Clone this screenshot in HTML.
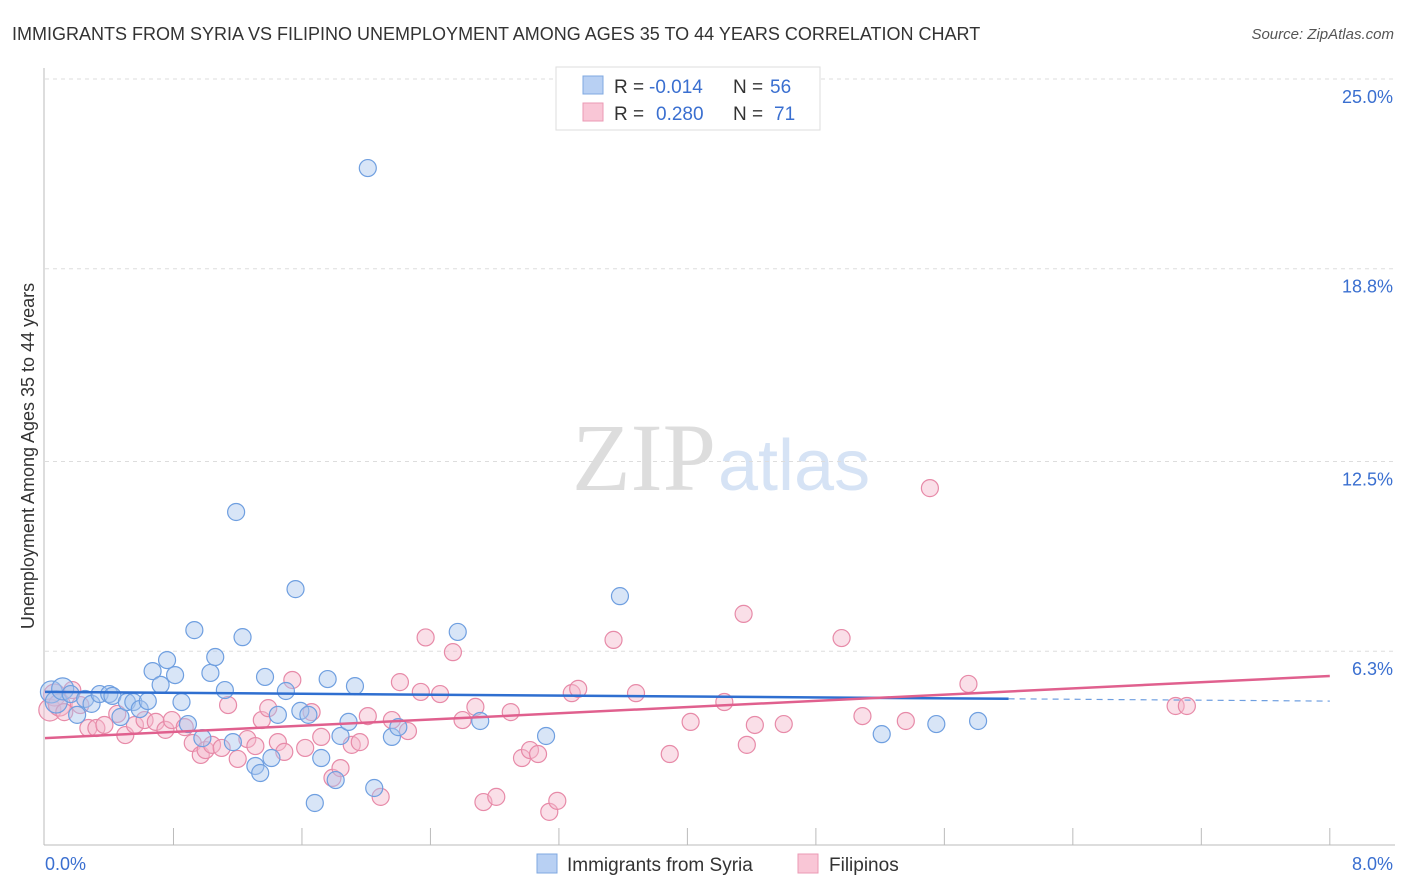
<!DOCTYPE html>
<html><head><meta charset="utf-8"><style>
body{margin:0;background:#fff;font-family:"Liberation Sans",sans-serif}
svg{display:block}
</style></head><body>
<svg id="c" width="1406" height="892">
<text x="12" y="40" font-size="18" fill="#333">IMMIGRANTS FROM SYRIA VS FILIPINO UNEMPLOYMENT AMONG AGES 35 TO 44 YEARS CORRELATION CHART</text>
<text x="1394" y="39" font-size="15" fill="#555" font-style="italic" text-anchor="end">Source: ZipAtlas.com</text>
<text x="716" y="490" font-size="96" fill="#ddd" text-anchor="end" font-family="Liberation Serif,serif">ZIP</text>
<text x="718" y="490" font-size="72" fill="#d6e3f5">atlas</text>
<g id="grid"></g><g id="marks"></g>
<text transform="translate(34,456) rotate(-90)" font-size="18" fill="#333" text-anchor="middle">Unemployment Among Ages 35 to 44 years</text>
<g>
<rect x="556" y="67" width="264" height="63" fill="#fff" stroke="#ddd"/>
<rect x="583" y="76" width="20" height="18" fill="#b8d0f3" stroke="#7fa8e0"/>
<rect x="583" y="103" width="20" height="18" fill="#f9c6d6" stroke="#eb9ab4"/>
<text x="614" y="93" font-size="19" fill="#333">R =</text>
<text x="649" y="93" font-size="19" fill="#3a6fd0">-0.014</text>
<text x="733" y="93" font-size="19" fill="#333">N =</text>
<text x="770" y="93" font-size="19" fill="#3a6fd0">56</text>
<text x="614" y="120" font-size="19" fill="#333">R =</text>
<text x="656" y="120" font-size="19" fill="#3a6fd0">0.280</text>
<text x="733" y="120" font-size="19" fill="#333">N =</text>
<text x="774" y="120" font-size="19" fill="#3a6fd0">71</text>
</g>
<g>
<rect x="537" y="854" width="20" height="19" fill="#b8d0f3" stroke="#7fa8e0"/>
<text x="567" y="871" font-size="19" fill="#333">Immigrants from Syria</text>
<rect x="798" y="854" width="20" height="19" fill="#f9c6d6" stroke="#eb9ab4"/>
<text x="829" y="871" font-size="19" fill="#333">Filipinos</text>
</g>
</svg>
<script>
const yTicks=[6.3,12.5,18.8,25.0];
const xTickCount=10;
const blueX=[0.04,0.07,0.11,0.16,0.20,0.25,0.29,0.34,0.40,0.42,0.47,0.51,0.55,0.59,0.64,0.67,0.72,0.76,0.81,0.85,0.89,0.93,0.98,1.03,1.06,1.12,1.17,1.19,1.23,1.31,1.34,1.37,1.41,1.45,1.50,1.56,1.59,1.64,1.68,1.72,1.76,1.84,1.89,1.81,1.93,2.01,2.05,2.16,2.20,2.57,2.71,3.12,3.58,5.21,5.55,5.81];
const blueY=[4.97,4.64,5.07,4.90,4.22,4.74,4.58,4.90,4.90,4.84,4.15,4.64,4.64,4.41,4.67,5.65,5.20,6.01,5.52,4.64,3.92,6.99,3.46,5.59,6.11,5.03,3.33,10.85,6.76,2.55,2.32,5.46,2.81,4.22,5.00,8.33,4.35,4.22,1.34,2.81,5.39,3.53,3.99,2.09,5.16,22.09,1.83,3.50,3.82,6.93,4.02,3.53,8.10,3.59,3.92,4.02];
const pinkX=[0.03,0.06,0.09,0.12,0.17,0.22,0.27,0.32,0.37,0.45,0.50,0.56,0.62,0.69,0.75,0.79,0.87,0.92,0.97,1.00,1.04,1.10,1.14,1.20,1.26,1.31,1.35,1.39,1.45,1.49,1.54,1.62,1.66,1.72,1.79,1.84,1.91,1.96,2.01,2.09,2.16,2.21,2.26,2.34,2.37,2.46,2.54,2.60,2.68,2.73,2.81,2.90,2.97,3.02,3.07,3.14,3.19,3.28,3.32,3.54,3.68,3.89,4.02,4.23,4.35,4.37,4.42,4.60,4.96,5.09,5.36,5.51,5.75,7.04,7.11];
const pinkY=[4.38,4.87,4.54,4.31,5.03,4.54,3.79,3.79,3.89,4.25,3.56,3.89,4.05,3.99,3.73,4.05,3.82,3.30,2.91,3.07,3.24,3.14,4.54,2.78,3.43,3.20,4.05,4.44,3.33,3.01,5.36,3.14,4.31,3.50,2.16,2.48,3.24,3.33,4.18,1.54,4.05,5.29,3.69,4.97,6.75,4.90,6.27,4.05,4.48,1.37,1.54,4.31,2.81,3.07,2.94,1.05,1.41,4.93,5.07,6.67,4.93,2.94,3.99,4.64,7.52,3.24,3.89,3.92,6.73,4.18,4.02,11.63,5.23,4.51,4.51];
const blueTrend=[4.97,4.67];
const pinkTrend=[3.46,5.49];
const X=v=>45+v*160.6, Y=v=>844-v*30.6;
const ns="http://www.w3.org/2000/svg";
function mk(p,t,a){const e=document.createElementNS(ns,t);for(const k in a)e.setAttribute(k,a[k]);p.appendChild(e);return e;}
const g=document.getElementById('grid'), m=document.getElementById('marks');
yTicks.forEach(t=>{
 const l=mk(g,'line',{x1:45,x2:1395,y1:Y(t),y2:Y(t),stroke:'#ddd','stroke-dasharray':'4,4'});
 
 
 const tx=mk(g,'text',{x:1393,y:Y(t)+24,'font-size':18,fill:'#3a6fd0','text-anchor':'end'});tx.textContent=t.toFixed(1)+'%';
 
 
});
mk(g,'line',{x1:44,x2:44,y1:68,y2:845,stroke:'#bbb'});
mk(g,'line',{x1:44,x2:1395,y1:845,y2:845,stroke:'#bbb'});
for(let i=1;i<=xTickCount;i++){const t=mk(g,'line',{x1:X(i*0.8),x2:X(i*0.8),y1:828,y2:845,stroke:'#bbb'});
 
 }
let a=mk(g,'text',{x:45,y:870,'font-size':18,fill:'#3a6fd0'});a.textContent='0.0%';


a=mk(g,'text',{x:1393,y:870,'font-size':18,fill:'#3a6fd0','text-anchor':'end'});a.textContent='8.0%';


function pts(xs,ys,f,s,name){xs.forEach((x,i)=>{const c=mk(m,'circle',{cx:X(x),cy:Y(ys[i]),r:i<3?11:8.5,fill:f,'fill-opacity':0.45,stroke:s,'stroke-width':1.2});
 
 });}
pts(pinkX,pinkY,'#f5b8cc','#e78aa8','filipino-point');
pts(blueX,blueY,'#a9c5ee','#6f9fe0','syria-point');
const xEnd=8.0, xSolid=6.0;
const by=x=>blueTrend[0]+(blueTrend[1]-blueTrend[0])*x/xEnd;
let l=mk(m,'line',{x1:X(0),y1:Y(by(0)),x2:X(xSolid),y2:Y(by(xSolid)),stroke:'#2f6fd0','stroke-width':2.5});


l=mk(m,'line',{x1:X(xSolid),y1:Y(by(xSolid)),x2:X(xEnd),y2:Y(by(xEnd)),stroke:'#6f9fe0','stroke-width':1.2,'stroke-dasharray':'6,5'});


l=mk(m,'line',{x1:X(0),y1:Y(pinkTrend[0]),x2:X(xEnd),y2:Y(pinkTrend[1]),stroke:'#e0608e','stroke-width':2.5});


</script>
</body></html>
